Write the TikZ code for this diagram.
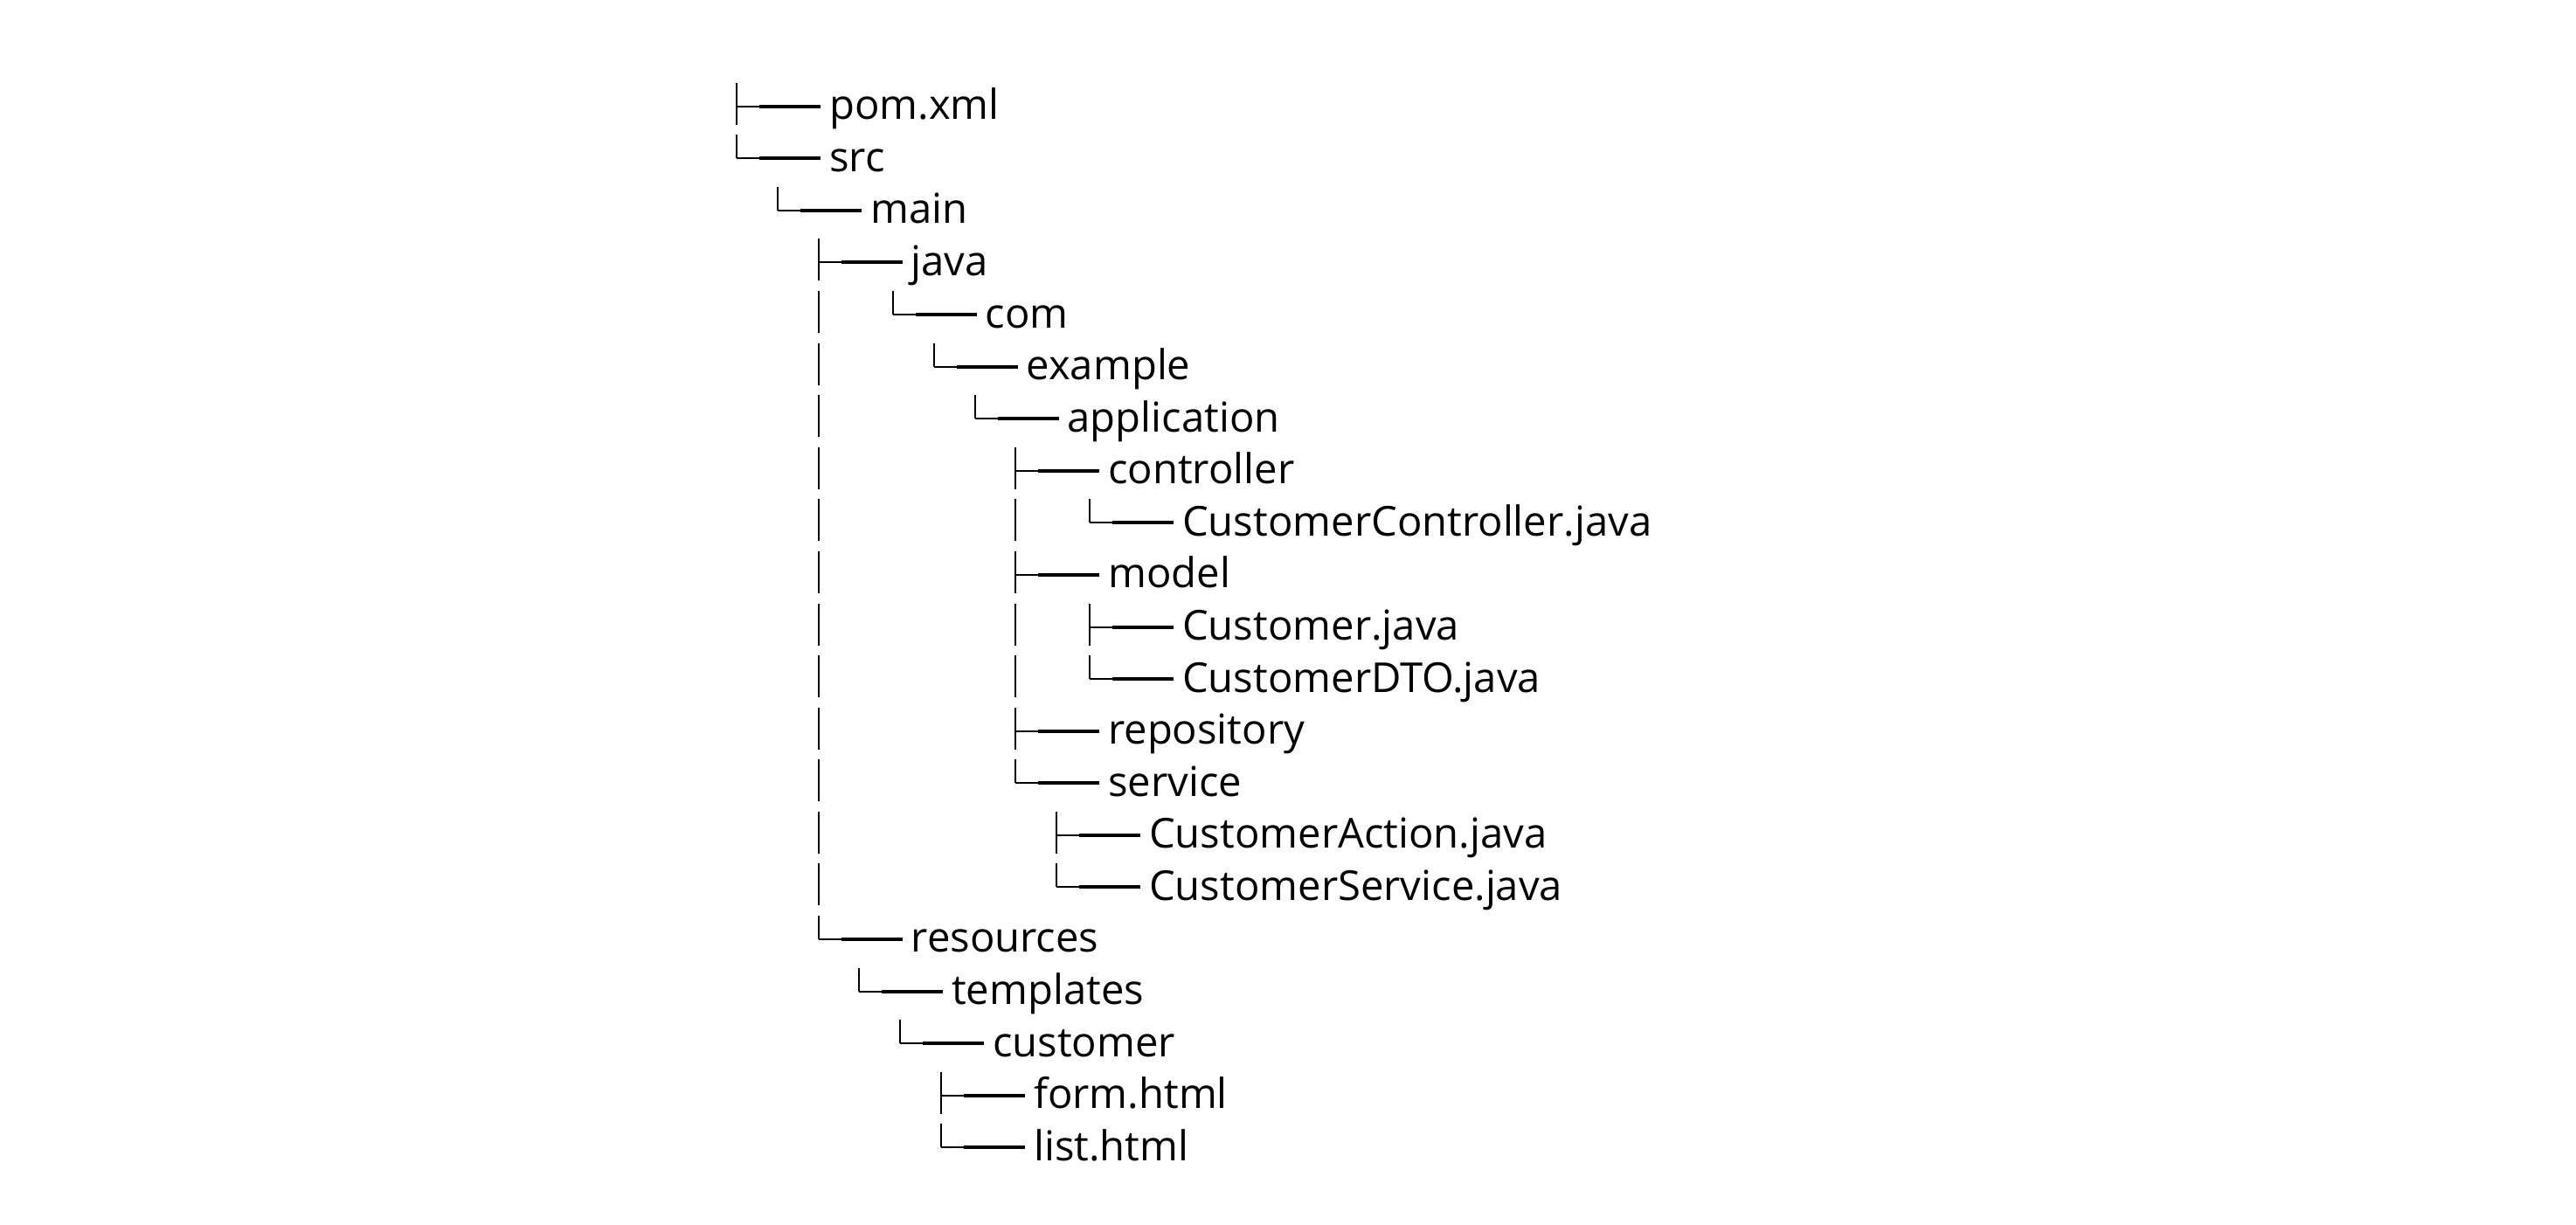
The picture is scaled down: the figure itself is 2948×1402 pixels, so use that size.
\documentclass[tikz,border=0pt]{standalone}
\usepackage{fontspec}
\setmainfont{Open Sans}

\tikzset{
  item/.style={anchor=base west, inner sep=0pt, font=\fontsize{47.2}{56}\selectfont},
  twig/.style={line width=2pt},
  stem/.style={line width=4pt},
}

\begin{document}
\begin{tikzpicture}[x=1pt, y=-1pt]
  \useasboundingbox (0,0) rectangle (2948,1402);
  % bar x / row / name / text / bar bottom (21 = tee, 0 = elbow)
  \foreach \x/\r/\n/\t/\k in {
      843/0/pom/pom.xml/21, 843/1/src/src/0, 890/2/main/main/0,
      936.5/3/java/java/21, 1021.5/4/com/com/0, 1068.5/5/example/example/0,
      1115.5/6/app/application/0, 1162/7/ctrl/controller/21,
      1247/8/custctrl/CustomerController.java/0, 1162/9/model/model/21,
      1247/10/cust/Customer.java/21, 1247/11/custdto/CustomerDTO.java/0,
      1162/12/repo/repository/21, 1162/13/service/service/0,
      1209/14/custaction/CustomerAction.java/21, 1209/15/custservice/CustomerService.java/0,
      936.5/16/resources/resources/0, 983/17/templates/templates/0,
      1030/18/customer/customer/0, 1077/19/form/form.html/21, 1077/20/list/list.html/0}{
    \pgfmathsetmacro\yl{121.7+59.58*\r}
    \node[item] (\n) at (\x+106, \yl+15) {\t};
    \coordinate (\n-bar) at (\x, \yl);
    \draw[twig] ([yshift=27pt]\n-bar) -- ([yshift=-\k pt]\n-bar) (\n-bar) -- ++(26,0);
    \draw[stem] ([xshift=-80pt,yshift=15pt]\n.base west) -- ([xshift=-10pt,yshift=15pt]\n.base west);
  }
  % pass-through bars
  \foreach \r in {4,...,15}
    \draw[twig] (java-bar |- 0,{121.7+59.58*\r-27}) -- ++(0,48);
  \foreach \r in {8,10,11}
    \draw[twig] (ctrl-bar |- 0,{121.7+59.58*\r-27}) -- ++(0,48);
\end{tikzpicture}
\end{document}
